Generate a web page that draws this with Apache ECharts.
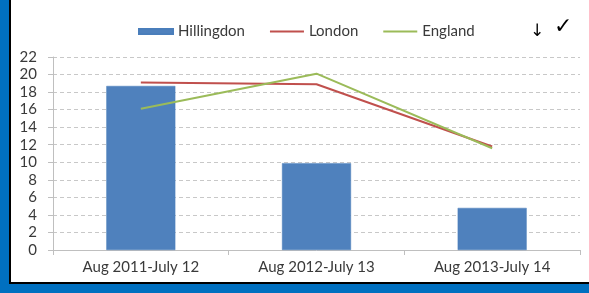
<!DOCTYPE html>
<html>
<head>
<meta charset="utf-8">
<script src="https://cdn.jsdelivr.net/npm/echarts@6/dist/echarts.min.js"></script>
<style>
    html, body { margin: 0; padding: 0; background: #ffffff; }
    #wrap { position: relative; width: 589px; height: 293px; overflow: hidden; }
    #chart { position: absolute; left: 0; top: 0; width: 589px; height: 293px; }
    /* dark blue frame round the slide */
    .blue-left { position: absolute; left: 0; top: 0; width: 9px; height: 293px; background: #0070c0; }
    .black-left { position: absolute; left: 9px; top: 0; width: 2px; height: 284px; background: #000; }
    .black-bottom { position: absolute; left: 9px; top: 282px; width: 580px; height: 2px; background: #000; }
    .blue-bottom { position: absolute; left: 0; top: 284px; width: 589px; height: 9px; background: #0070c0; }
</style>
</head>
<body>
<div id="wrap">
    <div id="chart"></div>
    <div class="blue-left"></div>
    <div class="black-left"></div>
    <div class="black-bottom"></div>
    <div class="blue-bottom"></div>
</div>
<script>
    // periods on the x axis
    var categories = ['Aug 2011-July 12', 'Aug 2012-July 13', 'Aug 2013-July 14'];
    // series values
    var hillingdon = [18.7, 9.9, 4.8];
    var london = [19.1, 18.9, 11.8];
    var england = [16.1, 20.1, 11.6];

    var textColor = '#3a3a3a';
    var fontFamily = 'Lato, "Open Sans", sans-serif';

    var chart = echarts.init(document.getElementById('chart'));
    chart.setOption({
        animation: false,
        textStyle: { fontFamily: fontFamily },
        legend: {
            left: 133,
            top: 19,
            itemWidth: 34,
            itemHeight: 5,
            itemGap: 24,
            textStyle: { color: textColor, fontSize: 15, fontFamily: fontFamily },
            data: [
                { name: 'Hillingdon', icon: 'rect' },
                { name: 'London', itemStyle: { opacity: 0 } },
                { name: 'England', itemStyle: { opacity: 0 } }
            ]
        },
        grid: {
            left: 53,
            right: 9,
            top: 57,
            bottom: 43
        },
        xAxis: {
            type: 'category',
            data: categories,
            axisLine: { lineStyle: { color: '#bfbfbf', width: 1 } },
            axisTick: { show: true, length: 5, lineStyle: { color: '#bfbfbf' } },
            axisLabel: { color: textColor, fontSize: 15, margin: 10, fontFamily: fontFamily }
        },
        yAxis: {
            type: 'value',
            min: 0,
            max: 22,
            interval: 2,
            axisLine: { show: true, lineStyle: { color: '#bfbfbf', width: 1 } },
            axisTick: { show: true, length: 5, lineStyle: { color: '#bfbfbf' } },
            axisLabel: { color: textColor, fontSize: 15, margin: 16, fontFamily: fontFamily },
            splitLine: { lineStyle: { color: '#c8c8c8', type: [4, 3] } }
        },
        series: [
            {
                name: 'Hillingdon',
                type: 'bar',
                barWidth: 69,
                data: hillingdon,
                itemStyle: { color: '#4f81bd', borderColor: '#4a7ebb', borderWidth: 0.5 }
            },
            {
                name: 'London',
                type: 'line',
                data: london,
                symbol: 'none',
                lineStyle: { color: '#c0504d', width: 2 },
                itemStyle: { color: '#c0504d' }
            },
            {
                name: 'England',
                type: 'line',
                data: england,
                symbol: 'none',
                lineStyle: { color: '#9bbb59', width: 2 },
                itemStyle: { color: '#9bbb59' }
            }
        ],
        graphic: [
            {
                type: 'text',
                left: 530,
                top: 23,
                style: { text: '↓', fill: '#000', fontSize: 17, fontFamily: 'DejaVu Sans' }
            },
            {
                type: 'text',
                left: 554,
                top: 16,
                style: { text: '✓', fill: '#000', fontSize: 22, fontWeight: 'bold', fontFamily: 'DejaVu Sans' }
            }
        ]
    });
</script>
</body>
</html>
